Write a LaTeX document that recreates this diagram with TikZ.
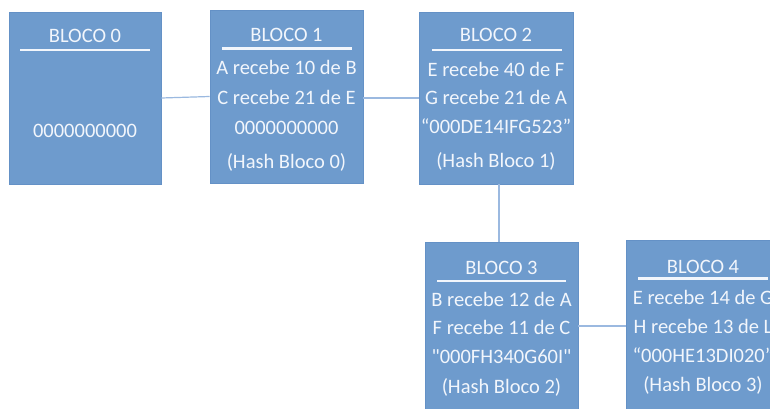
\documentclass[tikz,border=0pt]{standalone}
\usepackage{fontspec}
\setmainfont{Carlito}[Ligatures=TeXOff]
\definecolor{boxfill}{RGB}{110,155,205}
\definecolor{boxedge}{RGB}{100,145,198}
\definecolor{linkcol}{RGB}{155,185,224}
\definecolor{txt}{RGB}{242,246,252}
\begin{document}
\begin{tikzpicture}[x=1pt,y=-1pt,
  blk/.style={draw=boxedge,line width=0.6pt,fill=boxfill,rectangle,inner sep=0pt},
  ln/.style={text=txt,font=\fontsize{20.5}{24}\selectfont,inner sep=0pt,anchor=base},
  uline/.style={draw=txt,line width=2.4pt},
  link/.style={draw=linkcol,line width=1.2pt}]
\clip (0,0) rectangle (770,409);
\fill[white] (0,0) rectangle (770,409);
% boxes
\node[blk,minimum width=152pt,minimum height=172pt] (b0) at (85,98) {};
\node[blk,minimum width=153pt,minimum height=173pt] (b1) at (286.5,96.5) {};
\node[blk,minimum width=154pt,minimum height=172pt] (b2) at (496,98) {};
\node[blk,minimum width=153pt,minimum height=168pt] (b3) at (501.5,326) {};
\node[blk,minimum width=154pt,minimum height=172pt] (b4) at (703,326) {};
% connectors
\draw[link] (b0.east) -- (b1.west);
\draw[link] (b1.east |- 0,98) -- (b2.west |- 0,98);
\draw[link] (b2.south -| 499,0) -- (b3.north -| 499,0);
\draw[link] (b3.east) -- (b4.west);
% block 0
\node[ln] (t0) at (85,43) {BLOCO 0};
\draw[uline] (20,50) -- (150,50);
\node[ln] (z0) at (85,137) {0000000000};
% block 1
\node[ln] (t1) at (286.5,42) {BLOCO 1};
\draw[uline] (222,48.5) -- (352,48.5);
\node[ln] (l11) at (286.5,75) {A recebe 10 de B};
\node[ln] (l12) at (286.5,105) {C recebe 21 de E};
\node[ln] (l13) at (286.5,135) {0000000000};
\node[ln] (l14) at (286.5,168) {(Hash Bloco 0)};
% block 2
\node[ln] (t2) at (496,42) {BLOCO 2};
\draw[uline] (432,50) -- (562,50);
\node[ln] (l21) at (496,77) {E recebe 40 de F};
\node[ln] (l22) at (496,105) {G recebe 21 de A};
\node[ln] (l23) at (496,133) {“000DE14IFG523”};
\node[ln] (l24) at (496,167) {(Hash Bloco 1)};
% block 3
\node[ln] (t3) at (501.5,274) {BLOCO 3};
\draw[uline] (437,281) -- (566,281);
\node[ln] (l31) at (501.5,306) {B recebe 12 de A};
\node[ln] (l32) at (501.5,334) {F recebe 11 de C};
\node[ln] (l33) at (501.5,363) {"000FH340G60I"};
\node[ln] (l34) at (501.5,393) {(Hash Bloco 2)};
% block 4
\node[ln] (t4) at (703,273) {BLOCO 4};
\draw[uline] (638,278.5) -- (768,278.5);
\node[ln] (l41) at (703,304) {E recebe 14 de G};
\node[ln] (l42) at (703,333) {H recebe 13 de L};
\node[ln] (l43) at (703,362) {“000HE13DI020”};
\node[ln] (l44) at (703,391) {(Hash Bloco 3)};
\end{tikzpicture}
\end{document}
